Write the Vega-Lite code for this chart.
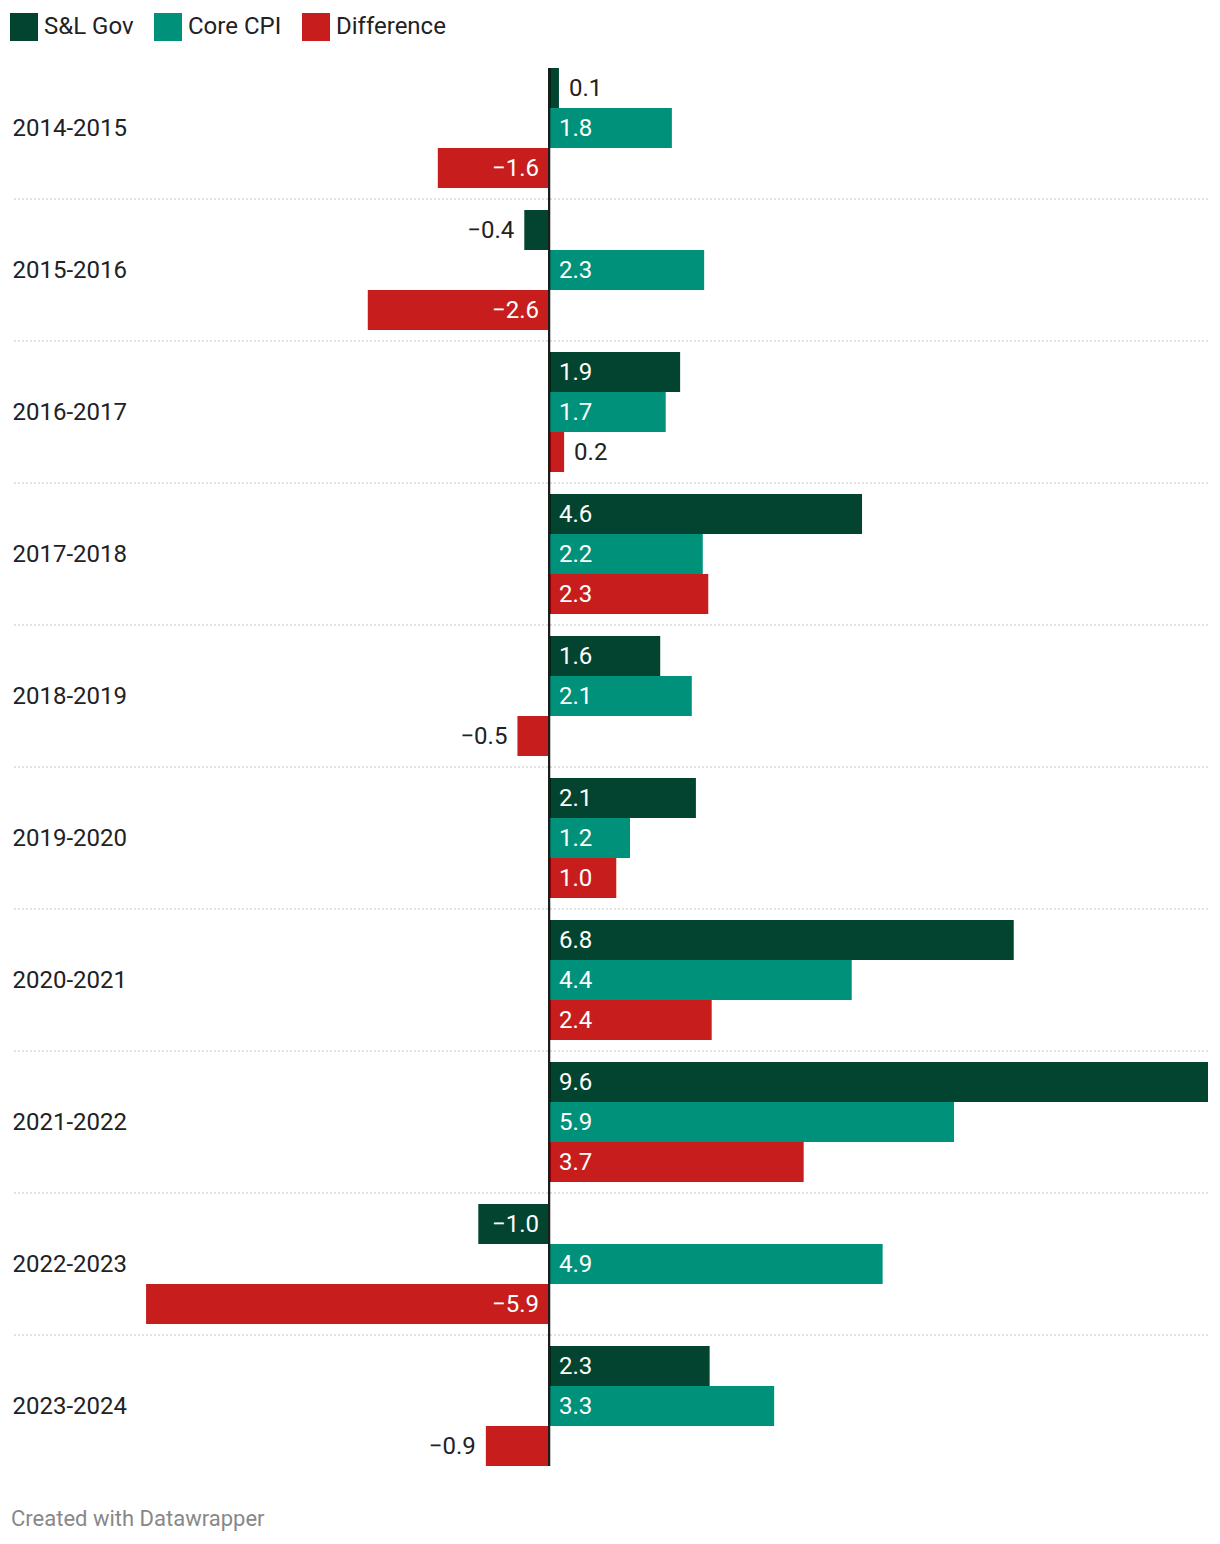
{
  "$schema": "https://vega.github.io/schema/vega-lite/v6.json",
  "width": 1196,
  "height": 1398,
  "autosize": {"type": "none"},
  "padding": {"left": 12, "top": 68, "right": 12, "bottom": 78},
  "background": "white",
  "title": {
    "text": "Created with Datawrapper",
    "orient": "bottom",
    "anchor": "start",
    "frame": "group",
    "offset": 42,
    "dx": -1,
    "font": "Roboto",
    "fontSize": 22,
    "fontWeight": "normal",
    "color": "#888888"
  },
  "config": {
    "view": {"stroke": null},
    "font": "Roboto"
  },
  "datasets": {
    "bars": [
      {"year": "2014-2015", "series": "S&L Gov", "value": 0.145},
      {"year": "2014-2015", "series": "Core CPI", "value": 1.79},
      {"year": "2014-2015", "series": "Difference", "value": -1.62},
      {"year": "2015-2016", "series": "S&L Gov", "value": -0.36},
      {"year": "2015-2016", "series": "Core CPI", "value": 2.26},
      {"year": "2015-2016", "series": "Difference", "value": -2.64},
      {"year": "2016-2017", "series": "S&L Gov", "value": 1.91},
      {"year": "2016-2017", "series": "Core CPI", "value": 1.7},
      {"year": "2016-2017", "series": "Difference", "value": 0.22},
      {"year": "2017-2018", "series": "S&L Gov", "value": 4.56},
      {"year": "2017-2018", "series": "Core CPI", "value": 2.24},
      {"year": "2017-2018", "series": "Difference", "value": 2.32},
      {"year": "2018-2019", "series": "S&L Gov", "value": 1.62},
      {"year": "2018-2019", "series": "Core CPI", "value": 2.08},
      {"year": "2018-2019", "series": "Difference", "value": -0.46},
      {"year": "2019-2020", "series": "S&L Gov", "value": 2.14},
      {"year": "2019-2020", "series": "Core CPI", "value": 1.18},
      {"year": "2019-2020", "series": "Difference", "value": 0.98},
      {"year": "2020-2021", "series": "S&L Gov", "value": 6.77},
      {"year": "2020-2021", "series": "Core CPI", "value": 4.41},
      {"year": "2020-2021", "series": "Difference", "value": 2.37},
      {"year": "2021-2022", "series": "S&L Gov", "value": 9.6},
      {"year": "2021-2022", "series": "Core CPI", "value": 5.9},
      {"year": "2021-2022", "series": "Difference", "value": 3.71},
      {"year": "2022-2023", "series": "S&L Gov", "value": -1.03},
      {"year": "2022-2023", "series": "Core CPI", "value": 4.86},
      {"year": "2022-2023", "series": "Difference", "value": -5.87},
      {"year": "2023-2024", "series": "S&L Gov", "value": 2.34},
      {"year": "2023-2024", "series": "Core CPI", "value": 3.28},
      {"year": "2023-2024", "series": "Difference", "value": -0.92}
    ],
    "separators": [
      {"year": "2015-2016"},
      {"year": "2016-2017"},
      {"year": "2017-2018"},
      {"year": "2018-2019"},
      {"year": "2019-2020"},
      {"year": "2020-2021"},
      {"year": "2021-2022"},
      {"year": "2022-2023"},
      {"year": "2023-2024"}
    ]
  },
  "layer": [
    {
      "data": {"name": "separators"},
      "mark": {"type": "rule", "yOffset": -11, "strokeDash": [2, 2], "strokeWidth": 1.2, "color": "#c8c8c8"},
      "encoding": {
        "y": {
          "field": "year", "type": "nominal", "bandPosition": 0,
          "scale": {"domain": ["2014-2015","2015-2016","2016-2017","2017-2018","2018-2019","2019-2020","2020-2021","2021-2022","2022-2023","2023-2024"], "paddingInner": 0.15493, "paddingOuter": 0},
          "axis": {"title": null, "ticks": false, "domain": false, "grid": false, "labelAlign": "left", "labelPadding": 0, "labelOffset": 1, "labelFont": "Roboto", "labelFontSize": 24, "labelColor": "#222222", "labelBaseline": "middle"}
        }
      }
    },
    {
      "data": {"name": "bars"},
      "mark": {"type": "bar"},
      "encoding": {
        "x": {"field": "value", "type": "quantitative", "scale": {"domain": [-7.823, 9.6], "nice": false, "zero": false}, "axis": null},
        "y": {"field": "year", "type": "nominal", "scale": {"domain": ["2014-2015","2015-2016","2016-2017","2017-2018","2018-2019","2019-2020","2020-2021","2021-2022","2022-2023","2023-2024"], "paddingInner": 0.15493, "paddingOuter": 0}},
        "yOffset": {"field": "series", "type": "nominal", "scale": {"domain": ["S&L Gov", "Core CPI", "Difference"], "paddingInner": 0, "paddingOuter": 0}},
        "color": {
          "field": "series", "type": "nominal",
          "scale": {"domain": ["S&L Gov", "Core CPI", "Difference"], "range": ["#02442f", "#00917a", "#c71e1d"]},
          "legend": {"orient": "none", "legendX": -2, "legendY": -55, "direction": "horizontal", "title": null, "symbolType": "square", "symbolSize": 784, "symbolStrokeWidth": 0, "labelFont": "Roboto", "labelFontSize": 24, "labelColor": "#222222", "labelOffset": 6, "columnPadding": 20, "padding": 0}
        }
      }
    },
    {
      "data": {"name": "bars"},
      "transform": [{"filter": "datum.value >= 0.95"}],
      "mark": {"type": "text", "align": "left", "baseline": "middle", "dx": 10, "dy": 1, "font": "Roboto", "fontSize": 24, "color": "#ffffff"},
      "encoding": {
        "x": {"datum": 0, "type": "quantitative", "scale": {"domain": [-7.823, 9.6], "nice": false, "zero": false}},
        "y": {"field": "year", "type": "nominal", "scale": {"domain": ["2014-2015","2015-2016","2016-2017","2017-2018","2018-2019","2019-2020","2020-2021","2021-2022","2022-2023","2023-2024"], "paddingInner": 0.15493, "paddingOuter": 0}},
        "yOffset": {"field": "series", "type": "nominal", "scale": {"domain": ["S&L Gov", "Core CPI", "Difference"], "paddingInner": 0, "paddingOuter": 0}},
        "text": {"field": "value", "type": "quantitative", "format": ".1f"}
      }
    },
    {
      "data": {"name": "bars"},
      "transform": [{"filter": "datum.value <= -0.95"}],
      "mark": {"type": "text", "align": "right", "baseline": "middle", "dx": -10, "dy": 1, "font": "Roboto", "fontSize": 24, "color": "#ffffff"},
      "encoding": {
        "x": {"datum": 0, "type": "quantitative", "scale": {"domain": [-7.823, 9.6], "nice": false, "zero": false}},
        "y": {"field": "year", "type": "nominal", "scale": {"domain": ["2014-2015","2015-2016","2016-2017","2017-2018","2018-2019","2019-2020","2020-2021","2021-2022","2022-2023","2023-2024"], "paddingInner": 0.15493, "paddingOuter": 0}},
        "yOffset": {"field": "series", "type": "nominal", "scale": {"domain": ["S&L Gov", "Core CPI", "Difference"], "paddingInner": 0, "paddingOuter": 0}},
        "text": {"field": "value", "type": "quantitative", "format": ".1f"}
      }
    },
    {
      "data": {"name": "bars"},
      "transform": [{"filter": "datum.value >= 0 && datum.value < 0.95"}],
      "mark": {"type": "text", "align": "left", "baseline": "middle", "dx": 10, "dy": 1, "font": "Roboto", "fontSize": 24, "color": "#222222"},
      "encoding": {
        "x": {"field": "value", "type": "quantitative", "scale": {"domain": [-7.823, 9.6], "nice": false, "zero": false}},
        "y": {"field": "year", "type": "nominal", "scale": {"domain": ["2014-2015","2015-2016","2016-2017","2017-2018","2018-2019","2019-2020","2020-2021","2021-2022","2022-2023","2023-2024"], "paddingInner": 0.15493, "paddingOuter": 0}},
        "yOffset": {"field": "series", "type": "nominal", "scale": {"domain": ["S&L Gov", "Core CPI", "Difference"], "paddingInner": 0, "paddingOuter": 0}},
        "text": {"field": "value", "type": "quantitative", "format": ".1f"}
      }
    },
    {
      "data": {"name": "bars"},
      "transform": [{"filter": "datum.value < 0 && datum.value > -0.95"}],
      "mark": {"type": "text", "align": "right", "baseline": "middle", "dx": -10, "dy": 1, "font": "Roboto", "fontSize": 24, "color": "#222222"},
      "encoding": {
        "x": {"field": "value", "type": "quantitative", "scale": {"domain": [-7.823, 9.6], "nice": false, "zero": false}},
        "y": {"field": "year", "type": "nominal", "scale": {"domain": ["2014-2015","2015-2016","2016-2017","2017-2018","2018-2019","2019-2020","2020-2021","2021-2022","2022-2023","2023-2024"], "paddingInner": 0.15493, "paddingOuter": 0}},
        "yOffset": {"field": "series", "type": "nominal", "scale": {"domain": ["S&L Gov", "Core CPI", "Difference"], "paddingInner": 0, "paddingOuter": 0}},
        "text": {"field": "value", "type": "quantitative", "format": ".1f"}
      }
    },
    {
      "data": {"name": "bars"},
      "mark": {"type": "rule", "color": "#1d1d1d", "strokeWidth": 2},
      "encoding": {
        "x": {"datum": 0, "type": "quantitative", "scale": {"domain": [-7.823, 9.6], "nice": false, "zero": false}}
      }
    }
  ]
}
